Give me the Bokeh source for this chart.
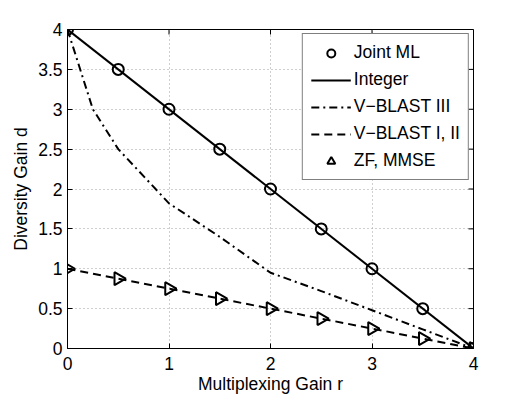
import numpy as np
from bokeh.plotting import figure
from bokeh.models import FixedTicker, Legend, LegendItem, Range1d
from bokeh.embed import file_html
from bokeh.resources import INLINE

# Data
r_ml = [0, 0.5, 1, 1.5, 2, 2.5, 3, 3.5, 4]
d_ml = [4, 3.5, 3, 2.5, 2, 1.5, 1, 0.5, 0]
r_int = [0, 4]
d_int = [4, 0]
r_vb3 = [0, 0.25, 0.5, 1, 1.5, 2, 2.5, 3, 3.5, 4]
d_vb3 = [4, 3.0, 2.5, 1.82, 1.4, 0.95, 0.72, 0.48, 0.24, 0]
r_vb12 = [0, 4]
d_vb12 = [1, 0]
r_zf = [0, 0.5, 1, 1.5, 2, 2.5, 3, 3.5, 4]
d_zf = [1, 0.875, 0.75, 0.625, 0.5, 0.375, 0.25, 0.125, 0]
x_ticks = [0, 1, 2, 3, 4]
y_ticks = [0, 0.5, 1, 1.5, 2, 2.5, 3, 3.5, 4]
x_min, x_max = 0, 4
y_min, y_max = 0, 4

FONT = "Liberation Sans"
FS = "17.5px"

p = figure(width=518, height=396, output_backend="svg", toolbar_location=None,
           x_range=Range1d(x_min, x_max), y_range=Range1d(y_min, y_max),
           min_border_left=67, min_border_right=45, min_border_top=29, min_border_bottom=47)
p.outline_line_color = "black"
p.outline_line_width = 1
p.background_fill_color = "white"
p.border_fill_color = "white"

for ax in (p.xaxis[0], p.yaxis[0]):
    ax.major_tick_in = 5
    ax.major_tick_out = 0
    ax.minor_tick_in = 0
    ax.minor_tick_out = 0
    ax.axis_line_color = "black"
    ax.major_label_text_font = FONT
    ax.major_label_text_font_size = FS
    ax.major_label_text_color = "black"
    ax.axis_label_text_font = FONT
    ax.axis_label_text_font_size = FS
    ax.axis_label_text_font_style = "normal"
    ax.axis_label_text_color = "black"

p.xaxis[0].ticker = FixedTicker(ticks=x_ticks)
p.yaxis[0].ticker = FixedTicker(ticks=y_ticks)
p.yaxis[0].major_label_overrides = {v: ("%g" % v) for v in y_ticks}
p.xaxis[0].axis_label = "Multiplexing Gain r"
p.yaxis[0].axis_label = "Diversity Gain d"
p.xaxis[0].major_label_standoff = 8
p.xaxis[0].axis_label_standoff = 1
p.yaxis[0].major_label_standoff = 5
p.yaxis[0].axis_label_standoff = 4

p.xgrid.ticker = FixedTicker(ticks=x_ticks)
p.ygrid.ticker = FixedTicker(ticks=y_ticks)
for g in (p.xgrid[0], p.ygrid[0]):
    g.grid_line_color = "#a0a0a0"
    g.grid_line_dash = "1 3"
    g.grid_line_width = 1

# inward ticks on the top and right edges (box on)
p.ray(x=x_ticks, y=[y_max] * len(x_ticks), length=5, length_units="screen",
      angle=-np.pi / 2, line_color="black", line_width=1)
p.ray(x=[x_max] * len(y_ticks), y=y_ticks, length=5, length_units="screen",
      angle=np.pi, line_color="black", line_width=1)

r_int_l = p.line(r_int, d_int, line_color="black", line_width=2)
r_vb3_l = p.line(r_vb3, d_vb3, line_color="black", line_width=2, line_dash="8 4 2 4")
r_vb12_l = p.line(r_vb12, d_vb12, line_color="black", line_width=2, line_dash="8 5")
r_ml_s = p.scatter(r_ml, d_ml, marker="circle", size=11, fill_alpha=0,
                   line_color="black", line_width=2)
r_zf_s = p.scatter(r_zf, d_zf, marker="triangle", size=13, angle=-np.pi / 2, fill_alpha=0,
                   line_color="black", line_width=2)

legend = Legend(items=[
    LegendItem(label="Joint ML", renderers=[r_ml_s]),
    LegendItem(label="Integer", renderers=[r_int_l]),
    LegendItem(label="V\u2212BLAST III", renderers=[r_vb3_l]),
    LegendItem(label="V\u2212BLAST I, II", renderers=[r_vb12_l]),
    LegendItem(label="ZF, MMSE", renderers=[r_zf_s]),
], location="top_right")
legend.margin = 4
legend.padding = 8
legend.spacing = 6
legend.glyph_width = 40
legend.glyph_height = 20
legend.label_height = 20
legend.label_standoff = 3
legend.label_text_font = FONT
legend.label_text_font_size = FS
legend.label_text_color = "black"
legend.border_line_color = "black"
legend.border_line_width = 1
legend.background_fill_alpha = 1
p.add_layout(legend)

open("out.html", "w").write(file_html(p, INLINE))
